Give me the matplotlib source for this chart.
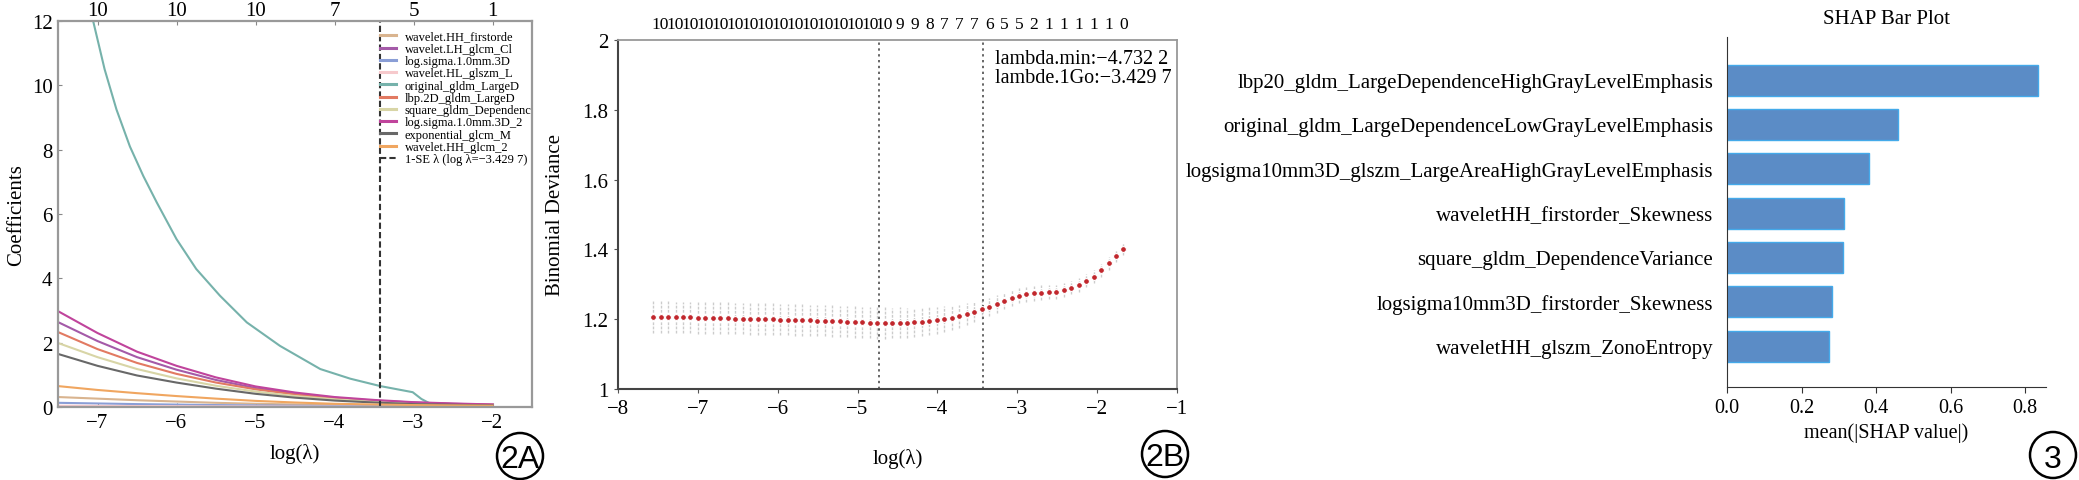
import numpy as np
import matplotlib
matplotlib.use('Agg')
import matplotlib.pyplot as plt
from matplotlib.patches import Ellipse

plt.rcParams['font.family'] = 'Liberation Serif'

W, H = 2079, 481

# ---------------- 2A: LASSO coefficient paths ----------------
lam_grid = [-7.5, -7.0, -6.5, -6.0, -5.5, -5.0, -4.5, -4.0, -3.5, -3.0, -2.5, -2.0]

hh_firstorde = [0.31, 0.26, 0.21, 0.17, 0.13, 0.10, 0.08, 0.06, 0.05, 0.04, 0.03, 0.03]
lh_glcm = [2.64, 2.05, 1.55, 1.16, 0.84, 0.59, 0.42, 0.29, 0.20, 0.14, 0.10, 0.07]
logsigma_3d = [0.13, 0.11, 0.09, 0.075, 0.06, 0.05, 0.04, 0.03, 0.025, 0.02, 0.02, 0.015]
hl_glszm = [0.04, 0.035, 0.03, 0.025, 0.02, 0.018, 0.015, 0.012, 0.01, 0.008, 0.006, 0.005]
lbp_gldm = [2.33, 1.80, 1.37, 1.03, 0.76, 0.55, 0.39, 0.27, 0.19, 0.13, 0.09, 0.07]
square_gldm = [1.99, 1.55, 1.18, 0.89, 0.66, 0.48, 0.34, 0.24, 0.17, 0.11, 0.08, 0.06]
logsigma_3d_2 = [2.98, 2.30, 1.72, 1.28, 0.92, 0.64, 0.45, 0.31, 0.22, 0.15, 0.11, 0.08]
exponential_glcm = [1.65, 1.28, 0.98, 0.76, 0.57, 0.41, 0.29, 0.20, 0.14, 0.09, 0.07, 0.05]
hh_glcm_2 = [0.65, 0.53, 0.43, 0.34, 0.26, 0.19, 0.14, 0.10, 0.08, 0.06, 0.05, 0.04]

# original_gldm path read on its own grid (steep curve)
orig_x = [-7.5, -7.3, -7.06, -6.91, -6.76, -6.59, -6.42, -6.25, -6.0, -5.75, -5.45,
          -5.11, -4.69, -4.18, -3.8, -3.42, -3.01, -2.9, -2.8, -2.5, -2.0]
orig_gldm = [17.5, 15.0, 12.05, 10.5, 9.25, 8.1, 7.18, 6.36, 5.22, 4.29, 3.46,
             2.63, 1.9, 1.18, 0.88, 0.65, 0.46, 0.25, 0.12, 0.08, 0.06]

coef_labels = ['wavelet.HH_firstorde', 'wavelet.LH_glcm_Cl', 'log.sigma.1.0mm.3D',
               'wavelet.HL_glszm_L', 'original_gldm_LargeD', 'lbp.2D_gldm_LargeD',
               'square_gldm_Dependenc', 'log.sigma.1.0mm.3D_2', 'exponential_glcm_M',
               'wavelet.HH_glcm_2']
coef_colors = ['#d9b48f', '#a45aa8', '#8a9ed6', '#f6c9cc', '#76b2ab', '#e27a62',
               '#d8d5a6', '#c0449c', '#686868', '#f0a660']

lam_1se = -3.4297
top_ticks_2a = [-7, -6, -5, -4, -3, -2]
top_labels_2a = ['10', '10', '10', '7', '5', '1']

# ---------------- 2B: cross-validation deviance ----------------
cv_start, cv_end = -7.56, -1.67
cv_dev = [1.206, 1.206, 1.206, 1.205, 1.205, 1.205, 1.204, 1.204, 1.204, 1.203,
          1.203, 1.202, 1.202, 1.201, 1.201, 1.200, 1.200, 1.199, 1.199, 1.198,
          1.198, 1.197, 1.196, 1.196, 1.195, 1.194, 1.193, 1.192, 1.191, 1.190,
          1.189, 1.189, 1.189, 1.190, 1.190, 1.191, 1.193, 1.195, 1.197, 1.200,
          1.204, 1.208, 1.214, 1.220, 1.228, 1.236, 1.244, 1.252, 1.260, 1.267,
          1.271, 1.274, 1.276, 1.277, 1.279, 1.283, 1.290, 1.298, 1.310, 1.322,
          1.340, 1.360, 1.380, 1.400]
cv_se = [0.045] * 30 + [0.045, 0.045, 0.044, 0.044, 0.043, 0.042, 0.041, 0.040, 0.039, 0.037,
                        0.035, 0.033, 0.031, 0.029, 0.028, 0.026, 0.025, 0.024, 0.023, 0.022,
                        0.022, 0.021, 0.021, 0.020, 0.020, 0.020, 0.019, 0.019, 0.019, 0.018,
                        0.018, 0.018, 0.017, 0.017]
nz_labels = ['10'] * 16 + ['9', '9', '8', '7', '7', '7', '6', '5', '5', '2',
                           '1', '1', '1', '1', '1', '0']
lam_min = -4.7322

# ---------------- 3: SHAP bar plot ----------------
shap_features = ['lbp20_gldm_LargeDependenceHighGrayLevelEmphasis',
                 'original_gldm_LargeDependenceLowGrayLevelEmphasis',
                 'logsigma10mm3D_glszm_LargeAreaHighGrayLevelEmphasis',
                 'waveletHH_firstorder_Skewness',
                 'square_gldm_DependenceVariance',
                 'logsigma10mm3D_firstorder_Skewness',
                 'waveletHH_glszm_ZonoEntropy']
shap_values = [0.835, 0.458, 0.382, 0.314, 0.312, 0.282, 0.274]


def px_axes(left, right, top, bottom):
    return [left / W, 1 - bottom / H, (right - left) / W, (bottom - top) / H]


fig = plt.figure(figsize=(W / 100, H / 100), dpi=100)

# ===== 2A =====
axA = fig.add_axes(px_axes(58, 532, 22, 408))
paths = [hh_firstorde, lh_glcm, logsigma_3d, hl_glszm, None, lbp_gldm,
         square_gldm, logsigma_3d_2, exponential_glcm, hh_glcm_2]
for lab, col, vals in zip(coef_labels, coef_colors, paths):
    if vals is None:
        axA.plot(orig_x, orig_gldm, color=col, lw=1.5, label=lab)
    else:
        axA.plot(lam_grid, vals, color=col, lw=1.5, label=lab)
axA.axvline(lam_1se, color='#333333', lw=1.5, ls=(0, (3, 1.5)),
            label='1-SE \u03bb (log \u03bb=\u22123.429 7)')
axA.set_xlim(-7.5, -1.5)
axA.set_ylim(0, 12)
axA.set_xticks([-7, -6, -5, -4, -3, -2])
axA.set_yticks([0, 2, 4, 6, 8, 10, 12])
axA.tick_params(direction='in', length=3, labelsize=15, colors='#888888',
                labelcolor='black', pad=4)
for sp in axA.spines.values():
    sp.set_color('#999999')
    sp.set_linewidth(1.6)
axA.set_xlabel('log(\u03bb)', fontsize=15, labelpad=8)
axA.set_ylabel('Coefficients', fontsize=15, labelpad=4)
secA = axA.secondary_xaxis('top')
secA.set_xticks(top_ticks_2a, top_labels_2a)
secA.tick_params(direction='in', length=3, labelsize=15, colors='#888888',
                 labelcolor='black', pad=1)
secA.spines['top'].set_visible(False)
leg = axA.legend(loc='upper left', bbox_to_anchor=(0.679, 0.975), frameon=False,
                 fontsize=9, labelspacing=0.02, handlelength=1.3,
                 handletextpad=0.7, borderpad=0, borderaxespad=0)
for h in leg.get_lines()[:-1]:
    h.set_linewidth(2.2)

# ===== 2B =====
axB = fig.add_axes(px_axes(618, 1177, 41, 390))
cv_x = np.linspace(cv_start, cv_end, len(cv_dev))
dev = np.array(cv_dev)
se = np.array(cv_se)
axB.vlines(cv_x, dev - se, dev + se, colors='#cccccc', lw=1.0, linestyles=(0, (2, 1)))
axB.plot(cv_x, dev, 'o', color='#c1272d', ms=4.2, mec='white', mew=0.8, zorder=3)
axB.axvline(lam_min, color='#666666', lw=1.4, ls=(0, (1.2, 1.8)))
axB.axvline(lam_1se, color='#666666', lw=1.4, ls=(0, (1.2, 1.8)))
axB.set_xlim(-8, -1)
axB.set_ylim(1, 2)
axB.set_xticks([-8, -7, -6, -5, -4, -3, -2, -1])
axB.set_yticks([1, 1.2, 1.4, 1.6, 1.8, 2])
axB.set_yticklabels(['1', '1.2', '1.4', '1.6', '1.8', '2'])
axB.tick_params(direction='out', length=3, labelsize=15, colors='#555555',
                labelcolor='black', pad=4)
for name, sp in axB.spines.items():
    if name in ('left', 'bottom'):
        sp.set_color('#444444')
        sp.set_linewidth(1.5)
    else:
        sp.set_color('#999999')
        sp.set_linewidth(1.3)
axB.set_xlabel('log(\u03bb)', fontsize=15, labelpad=22)
axB.set_ylabel('Binomial Deviance', fontsize=15, labelpad=12)
secB = axB.secondary_xaxis('top')
secB.set_xticks(cv_x[1::2], nz_labels)
secB.tick_params(length=0, labelsize=12.5, pad=6)
secB.spines['top'].set_visible(False)
axB.text(0.675, 0.948, 'lambda.min:\u22124.732 2', transform=axB.transAxes,
         fontsize=14.5, va='center', ha='left')
axB.text(0.675, 0.893, 'lambde.1Go:\u22123.429 7', transform=axB.transAxes,
         fontsize=14.5, va='center', ha='left')

# ===== 3 =====
axS = fig.add_axes(px_axes(1727, 2046, 38, 388))
ypos = np.arange(len(shap_values))[::-1]
axS.barh(ypos, shap_values, height=0.7, color='#5b8cc6', edgecolor='#44aaea', lw=1.0)
axS.set_yticks(ypos)
axS.set_yticklabels(shap_features, fontsize=15)
axS.set_xlim(0, 0.856)
axS.set_ylim(-0.92, 6.97)
axS.set_xticks([0.0, 0.2, 0.4, 0.6, 0.8])
axS.tick_params(axis='y', length=0, pad=10)
axS.tick_params(axis='x', direction='out', length=4, labelsize=14.5, colors='#333333',
                labelcolor='black', pad=4)
axS.spines['top'].set_visible(False)
axS.spines['right'].set_visible(False)
axS.spines['left'].set_color('#333333')
axS.spines['bottom'].set_color('#333333')
axS.set_xlabel('mean(|SHAP value|)', fontsize=14.5, labelpad=4)
axS.set_title('SHAP Bar Plot', fontsize=15, pad=10)

# ===== circled panel tags =====
for tag, cx, cy in [('2A', 520, 457), ('2B', 1165, 455), ('3', 2053, 456)]:
    fig.patches.append(Ellipse((cx / W, 1 - cy / H), 46 / W, 46 / H, transform=fig.transFigure,
                               fill=False, lw=1.8, color='black'))
    fig.text(cx / W, 1 - cy / H, tag, family='Liberation Sans', fontsize=23,
             ha='center', va='center_baseline')

fig.savefig('out.png', dpi=100)
